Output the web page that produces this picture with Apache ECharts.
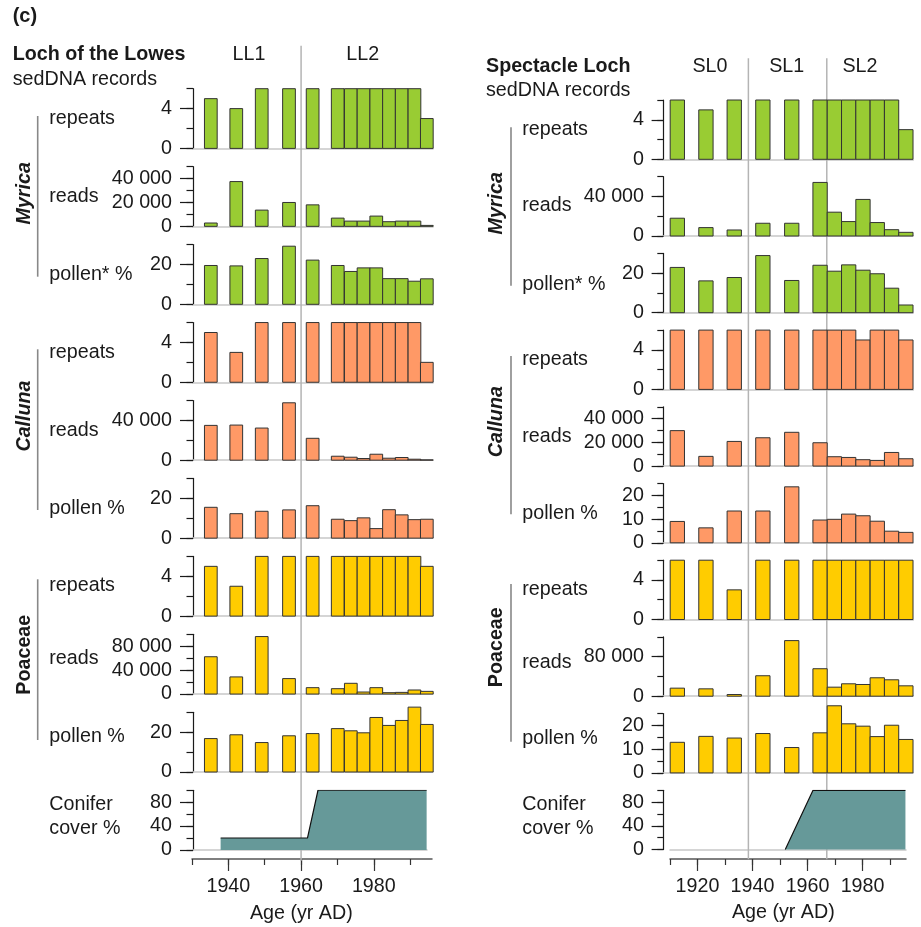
<!DOCTYPE html>
<html><head><meta charset="utf-8">
<script src="https://cdn.jsdelivr.net/npm/echarts@6/dist/echarts.min.js"></script>
<style>html,body{margin:0;padding:0;background:#fff}#c{width:921px;height:927px}</style>
</head><body><div id="c"></div>
<script>
// ---------------- DATA ----------------
// Sample ages (bar centres, yr AD)
const llYears = [1935.2,1942.2,1949.2,1956.7,1963.2,1970.1,1973.7,1977.2,1980.7,1984.2,1987.7,1991.2,1994.6];
const slYears = [1912.7,1923.1,1933.4,1943.8,1954.3,1964.6,1969.8,1975.0,1980.2,1985.4,1990.6,1995.8];

// Loch of the Lowes
const llMyricaRepeats  = [5,4,6,6,6,6,6,6,6,6,6,6,3];
const llMyricaReads    = [2800,37500,13600,20000,18000,6900,4400,4400,8600,3900,4400,4400,800];
const llMyricaPollen   = [19.5,19.3,23.0,29.2,22.2,19.5,16.5,18.3,18.3,12.9,12.9,11.6,12.8];
const llCallunaRepeats = [5,3,6,6,6,6,6,6,6,6,6,6,2];
const llCallunaReads   = [35000,35300,32300,57700,22000,4000,3000,1700,6000,2000,2700,1000,300];
const llCallunaPollen  = [15.5,12.3,13.5,14.2,16.3,9.5,8.8,10.2,4.8,14.3,11.7,9.3,9.5];
const llPoaceaeRepeats = [5,3,6,6,6,6,6,6,6,6,6,6,5];
const llPoaceaeReads   = [62500,28700,96300,25900,10700,9000,18000,3400,10700,2300,2800,6800,4500];
const llPoaceaePollen  = [16.8,18.7,14.8,18.2,19.3,21.8,20.7,19.7,27.4,23.4,25.9,32.6,23.9];
const llConifer        = [[1937.9,20],[1961.8,20],[1964.7,100],[1994.6,100]];

// Spectacle Loch
const slMyricaRepeats  = [6,5,6,6,6,6,6,6,6,6,6,3];
const slMyricaReads    = [18000,8500,6100,12900,12900,54200,24100,14600,37000,13600,6400,3700];
const slMyricaPollen   = [22.9,16.1,17.8,28.9,16.3,24.0,21.0,24.2,21.5,19.7,12.4,3.9];
const slCallunaRepeats = [6,6,6,6,6,6,6,6,5,6,6,5];
const slCallunaReads   = [29900,8200,20800,23900,28500,19700,7900,7300,5400,4800,11500,6200];
const slCallunaPollen  = [9.0,6.3,13.4,13.4,23.6,9.6,9.9,12.1,11.4,9.1,4.9,4.4];
const slPoaceaeRepeats = [6,6,3,6,6,6,6,6,6,6,6,6];
const slPoaceaeReads   = [16300,14900,3400,41400,112500,55600,18300,25100,23700,37300,33200,21000];
const slPoaceaePollen  = [12.9,15.4,14.7,16.6,10.7,16.9,28.3,20.7,19.7,15.3,20.1,14.1];
const slConifer        = [[1951.9,0],[1962,100],[1995.6,100]];

// Y-axis scales: [max, minor step, labelled ticks]
const llAxisMax    = [6,50000,30,6,60000,30,6,100000,30,100];
const llAxisMinor  = [2,10000,10,2,20000,10,2,20000,10,20];
const llAxisLabels = [[0,4],[0,20000,40000],[0,20],[0,4],[0,40000],[0,20],[0,4],[0,40000,80000],[0,20],[0,40,80]];
const slAxisMax    = [6,60000,30,6,50000,25,6,120000,25,100];
const slAxisMinor  = [2,20000,10,2,10000,5,2,40000,5,20];
const slAxisLabels = [[0,4],[0,40000],[0,20],[0,4],[0,20000,40000],[0,10,20],[0,4],[0,80000],[0,10,20],[0,40,80]];

// X-axis ticks
const llXTicks = [1930,1940,1950,1960,1970,1980,1990];
const llXLabels = [1940,1960,1980];
const slXTicks = [1910,1920,1930,1940,1950,1960,1970,1980,1990];
const slXLabels = [1920,1940,1960,1980];

// Zone boundaries
const llZoneLines = [1960];
const slZoneLines = [1938.5,1967];

// Text
const rowLabels = ['repeats','reads','pollen* %','repeats','reads','pollen %','repeats','reads','pollen %'];

// ---------------- BUILD ----------------
const FONT = '"Liberation Sans", Arial, Helvetica, sans-serif';
const FS = 19.7;
const TXT = '#1a1a1a';
const GREEN = '#99cc33', SALMON = '#ff9966', GOLD = '#ffcc00', TEAL = '#669999';
const rowColors = [GREEN,GREEN,GREEN,SALMON,SALMON,SALMON,GOLD,GOLD,GOLD];

const fmt = v => String(v).replace(/\B(?=(\d{3})+(?!\d))/g, ' ');
const yearFmt = v => String(Math.round(v));

const grids = [], xAxes = [], yAxes = [], series = [], graphics = [];

function addYAxes(gi, max, minor, labels, off, shortLen, longLen, margin) {
  const a = yAxes.push({
    type:'value', gridIndex: gi, position:'left', min:0, max:max, interval:minor, offset:off,
    axisLine:{show:true, lineStyle:{color:'#1a1a1a', width:1.2}},
    axisTick:{show:true, length:shortLen, lineStyle:{color:'#1a1a1a', width:1.2}},
    axisLabel:{show:false}, splitLine:{show:false}
  }) - 1;
  yAxes.push({
    type:'value', gridIndex: gi, position:'left', min:0, max:max, offset:off,
    axisLine:{show:false},
    axisTick:{show:true, length:longLen, customValues: labels, lineStyle:{color:'#1a1a1a', width:1.2}},
    axisLabel:{show:true, customValues: labels, formatter: fmt, margin: margin,
      fontSize: FS, fontFamily: FONT, color: TXT},
    splitLine:{show:false}
  });
  return a;
}

function buildPanel(P) {
  for (let i = 0; i < 10; i++) {
    const top = P.top0 + P.step * i;
    const isCon = i === 9;
    const gx = isCon ? P.con : P.row;
    const gi = grids.push({left: gx.left, top: top, width: gx.width, height: P.h}) - 1;
    const xi = xAxes.push({
      type:'value', gridIndex: gi, position:'bottom', min: gx.min, max: gx.max,
      axisLine:{show:true, onZero:false, lineStyle:{color:'#c8c8c8', width:1.5}},
      axisTick:{show:false}, axisLabel:{show:false}, splitLine:{show:false}
    }) - 1;
    const yi = addYAxes(gi, P.axisMax[i], P.axisMinor[i], P.axisLabels[i], gx.yOff || 0, P.shortLen, P.longLen, P.margin);
    if (!isCon) {
      const vals = P.rows[i], col = rowColors[i], bw = P.barW;
      series.push({
        type:'custom', xAxisIndex: xi, yAxisIndex: yi, z:3, silent:true,
        data: P.years.map((y, k) => [y, vals[k]]),
        renderItem: (params, api) => {
          const c = api.value(0), v = api.value(1);
          const p0 = api.coord([c - bw/2, 0]);
          const p1 = api.coord([c + bw/2, v]);
          return {type:'rect', shape:{x:p0[0], y:p1[1], width:p1[0]-p0[0], height:p0[1]-p1[1]},
                  style:{fill: col, stroke:'#333', lineWidth:1}};
        }
      });
    } else {
      series.push({
        type:'line', xAxisIndex: xi, yAxisIndex: yi, z:3, silent:true,
        data: P.conifer, showSymbol:false, symbol:'none',
        lineStyle:{color:'#111', width:1.2},
        areaStyle:{color: TEAL, opacity:1}
      });
    }
  }
  // bottom time axis
  const A = P.axis;
  const gi = grids.push({left: A.left, top: A.y - 1, width: A.width, height: 1}) - 1;
  xAxes.push({
    type:'value', gridIndex: gi, position:'bottom', min:A.min, max:A.max,
    axisLine:{show:true, onZero:false, lineStyle:{color:'#555', width:1.5}},
    axisTick:{show:true, length:6, customValues: P.xTicks, lineStyle:{color:'#333', width:1.2}},
    axisLabel:{show:false}, splitLine:{show:false}
  });
  xAxes.push({
    type:'value', gridIndex: gi, position:'bottom', min:A.min, max:A.max,
    axisLine:{show:false},
    axisTick:{show:true, length:12, customValues: P.xLabels, lineStyle:{color:'#333', width:1.2}},
    axisLabel:{show:true, customValues: P.xLabels, formatter: yearFmt, margin:18, fontSize: FS, fontFamily: FONT, color: TXT},
    splitLine:{show:false}
  });
  yAxes.push({type:'value', gridIndex: gi, show:false, min:0, max:1});
  // zone lines overlay
  const O = P.over;
  const og = grids.push({left: O.left, top: O.top, width: O.width, height: O.height}) - 1;
  const ox = xAxes.push({type:'value', gridIndex: og, show:false, min:O.min, max:O.max}) - 1;
  const oy = yAxes.push({type:'value', gridIndex: og, show:false, min:0, max:1}) - 1;
  P.zones.forEach(z => series.push({
    type:'line', xAxisIndex: ox, yAxisIndex: oy, z:1, silent:true, symbol:'none',
    data:[[z,0],[z,1]], lineStyle:{color:'#b4b4b4', width:1.5}
  }));
}

buildPanel({
  years: llYears, barW: 3.5,
  rows: [llMyricaRepeats,llMyricaReads,llMyricaPollen,llCallunaRepeats,llCallunaReads,llCallunaPollen,llPoaceaeRepeats,llPoaceaeReads,llPoaceaePollen],
  conifer: llConifer,
  axisMax: llAxisMax, axisMinor: llAxisMinor, axisLabels: llAxisLabels,
  top0: 88.7, step: 77.95, h: 59.7,
  row: {left:193, width:240, min:1930.3, max:1996.3},
  con: {left:193, width:234, min:1930.3, max:1994.7},
  axis: {left:192, width:240, min:1930, max:1996, y:859},
  over: {left:192, width:240, min:1930, max:1996, top:45.7, height:815},
  xTicks: llXTicks, xLabels: llXLabels, zones: llZoneLines,
  shortLen: 6.5, longLen: 13, margin: 21
});
buildPanel({
  years: slYears, barW: 5.2,
  rows: [slMyricaRepeats,slMyricaReads,slMyricaPollen,slCallunaRepeats,slCallunaReads,slCallunaPollen,slPoaceaeRepeats,slPoaceaeReads,slPoaceaePollen],
  conifer: slConifer,
  axisMax: slAxisMax, axisMinor: slAxisMinor, axisLabels: slAxisLabels,
  top0: 100, step: 76.7, h: 59.3,
  row: {left:663.3, width:250, min:1907.6, max:1998.5},
  con: {left:670, width:236, min:1910, max:1995.8, yOff:6.7},
  axis: {left:670, width:236, min:1910, max:1995.8, y:859},
  over: {left:670, width:236, min:1910, max:1995.8, top:58.3, height:801},
  xTicks: slXTicks, xLabels: slXLabels, zones: slZoneLines,
  shortLen: 6, longLen: 11.7, margin: 19.3
});

// ---------------- TEXT ----------------
function txt(s, x, y, opt) {
  opt = opt || {};
  const font = (opt.style || '') + ' ' + (opt.weight || 'normal') + ' ' + (opt.size || FS) + 'px ' + FONT;
  graphics.push({
    type:'text', x:x, y:y, rotation: opt.rot || 0, silent:true, z:10,
    style:{text:s, font:font, fill:TXT, textAlign: opt.align || 'left', textVerticalAlign:'middle',
           align: opt.align || 'left', verticalAlign:'middle'}
  });
}
function bracket(x, y1, y2) {
  graphics.push({type:'line', silent:true, shape:{x1:x, y1:y1, x2:x, y2:y2}, style:{stroke:'#888', lineWidth:1.6}});
}

txt('(c)', 12.7, 16.7, {weight:'bold', size:20});
// left panel
txt('Loch of the Lowes', 12.7, 54.3, {weight:'bold'});
txt('sedDNA records', 12.7, 80);
txt('LL1', 249, 54.3, {align:'center'});
txt('LL2', 362.7, 54.3, {align:'center'});
const llRowY = [118.3,196.7,275,352.7,430.7,509,586,659,736.7];
rowLabels.forEach((s,i) => txt(s, 49.3, llRowY[i]));
txt('Conifer', 49.3, 805); txt('cover %', 49.3, 829);
txt('Myrica', 24.3, 193.3, {weight:'bold', style:'italic', rot:Math.PI/2, align:'center'});
txt('Calluna', 24.3, 416, {weight:'bold', style:'italic', rot:Math.PI/2, align:'center'});
txt('Poaceae', 25, 654.7, {weight:'bold', rot:Math.PI/2, align:'center'});
bracket(37.7, 116, 276.7); bracket(37.7, 349.3, 510); bracket(37.7, 579.3, 740);
txt('Age (yr AD)', 301.3, 914, {align:'center'});
// right panel
txt('Spectacle Loch', 486, 66.7, {weight:'bold'});
txt('sedDNA records', 486, 91);
txt('SL0', 710, 66.7, {align:'center'});
txt('SL1', 786.7, 66.7, {align:'center'});
txt('SL2', 860, 66.7, {align:'center'});
const slRowY = [130,205.7,285,360,436.7,513.3,590,662.3,738.3];
rowLabels.forEach((s,i) => txt(s, 522.3, slRowY[i]));
txt('Conifer', 522.3, 804.3); txt('cover %', 522.3, 828.3);
txt('Myrica', 496.7, 203.3, {weight:'bold', style:'italic', rot:Math.PI/2, align:'center'});
txt('Calluna', 496.7, 421.7, {weight:'bold', style:'italic', rot:Math.PI/2, align:'center'});
txt('Poaceae', 496.7, 647.2, {weight:'bold', rot:Math.PI/2, align:'center'});
bracket(511, 127.3, 285.7); bracket(511, 356, 514.3); bracket(511, 584, 741.7);
txt('Age (yr AD)', 783.3, 913, {align:'center'});

const chart = echarts.init(document.getElementById('c'), null, {renderer:'canvas'});
chart.setOption({
  animation:false,
  backgroundColor:'#ffffff',
  grid: grids, xAxis: xAxes, yAxis: yAxes, series: series, graphic: graphics
});
</script>
</body></html>
